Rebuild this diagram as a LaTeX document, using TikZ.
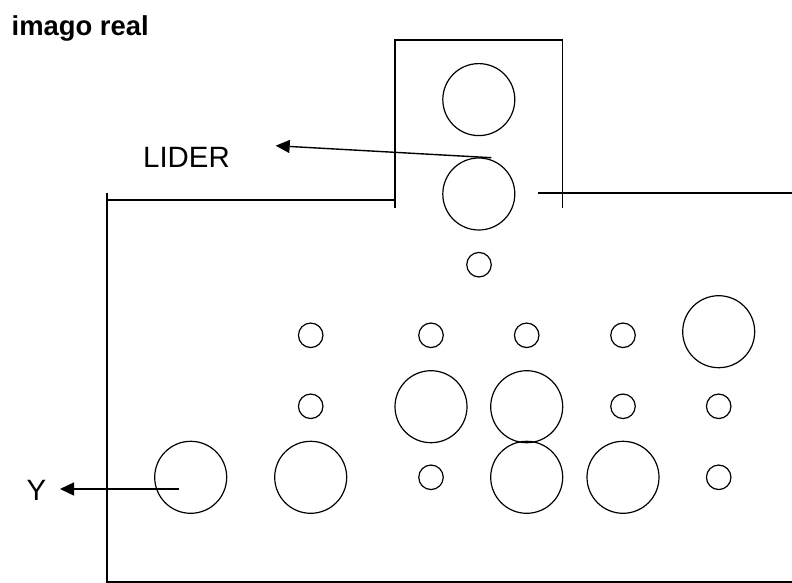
\documentclass[tikz,border=0pt]{standalone}
\usepackage{fontspec}
\setmainfont{Liberation Sans}
\usepackage{tikz}
\usetikzlibrary{arrows.meta}

\begin{document}
\begin{tikzpicture}[x=1bp, y=-1bp,
    line width=1.4bp,
    bigcirc/.style={draw, circle, minimum size=72bp, inner sep=0pt, line width=1.2bp},
    smallcirc/.style={draw, circle, minimum size=24.5bp, inner sep=0pt, line width=1.2bp},
    label/.style={anchor=base west, inner sep=0pt, font=\fontsize{29.5}{31}\selectfont},
    pointer/.style={-{Triangle[length=14bp, width=13bp]}, line width=1.4bp}
]
  \useasboundingbox (0,0) rectangle (792,583);

  % Titel
  \node[label, font=\fontsize{27.5}{30}\bfseries\selectfont] (title) at (11,35.7) {imago real};

  % Kasten oben
  \draw (395,208) -- (395,40) -- (562.7,40) -- (562.7,208);

  % Rahmen links und unten
  \draw (107,200) -- (395,200);
  \draw (107,192.7) -- (107,582) -- (792,582);
  \draw (538,193) -- (792,193);

  % Kreise im Kasten
  \node[bigcirc] (top1) at (478.8,99.6) {};
  \node[bigcirc] (top2) at (478.8,194) {};
  \node[smallcirc] (top3) at (479,264.7) {};

  % erste Reihe
  \node[smallcirc] (a1) at (310.7,335.3) {};
  \node[smallcirc] (a2) at (431,335.3) {};
  \node[smallcirc] (a3) at (526.7,335.3) {};
  \node[smallcirc] (a4) at (623,335.3) {};
  \node[bigcirc]   (a5) at (718.7,331.7) {};

  % zweite Reihe
  \node[smallcirc] (b1) at (310.7,406.3) {};
  \node[bigcirc]   (b2) at (431,406.7) {};
  \node[bigcirc]   (b3) at (526.7,406.7) {};
  \node[smallcirc] (b4) at (623,406.3) {};
  \node[smallcirc] (b5) at (718.7,406.3) {};

  % dritte Reihe
  \node[bigcirc]   (c0) at (190.7,477.3) {};
  \node[bigcirc]   (c1) at (310.7,477.3) {};
  \node[smallcirc] (c2) at (431,477.3) {};
  \node[bigcirc]   (c3) at (526.7,477.3) {};
  \node[bigcirc]   (c4) at (623,477.3) {};
  \node[smallcirc] (c5) at (718.7,477.3) {};

  % Beschriftungen mit Pfeilen
  \node[label] (lider) at (142.5,168) {LIDER};
  \node[label] (ylab) at (26,500.7) {Y};

  \coordinate (liderfrom) at (491.3,157.7);
  \coordinate (liderto) at (275.7,145.7);
  \draw[pointer] (liderfrom) -- (liderto);

  \coordinate (yfrom) at (179.3,489);
  \coordinate (yto) at (60,489);
  \draw[pointer] (yfrom) -- (yto);

\end{tikzpicture}
\end{document}
